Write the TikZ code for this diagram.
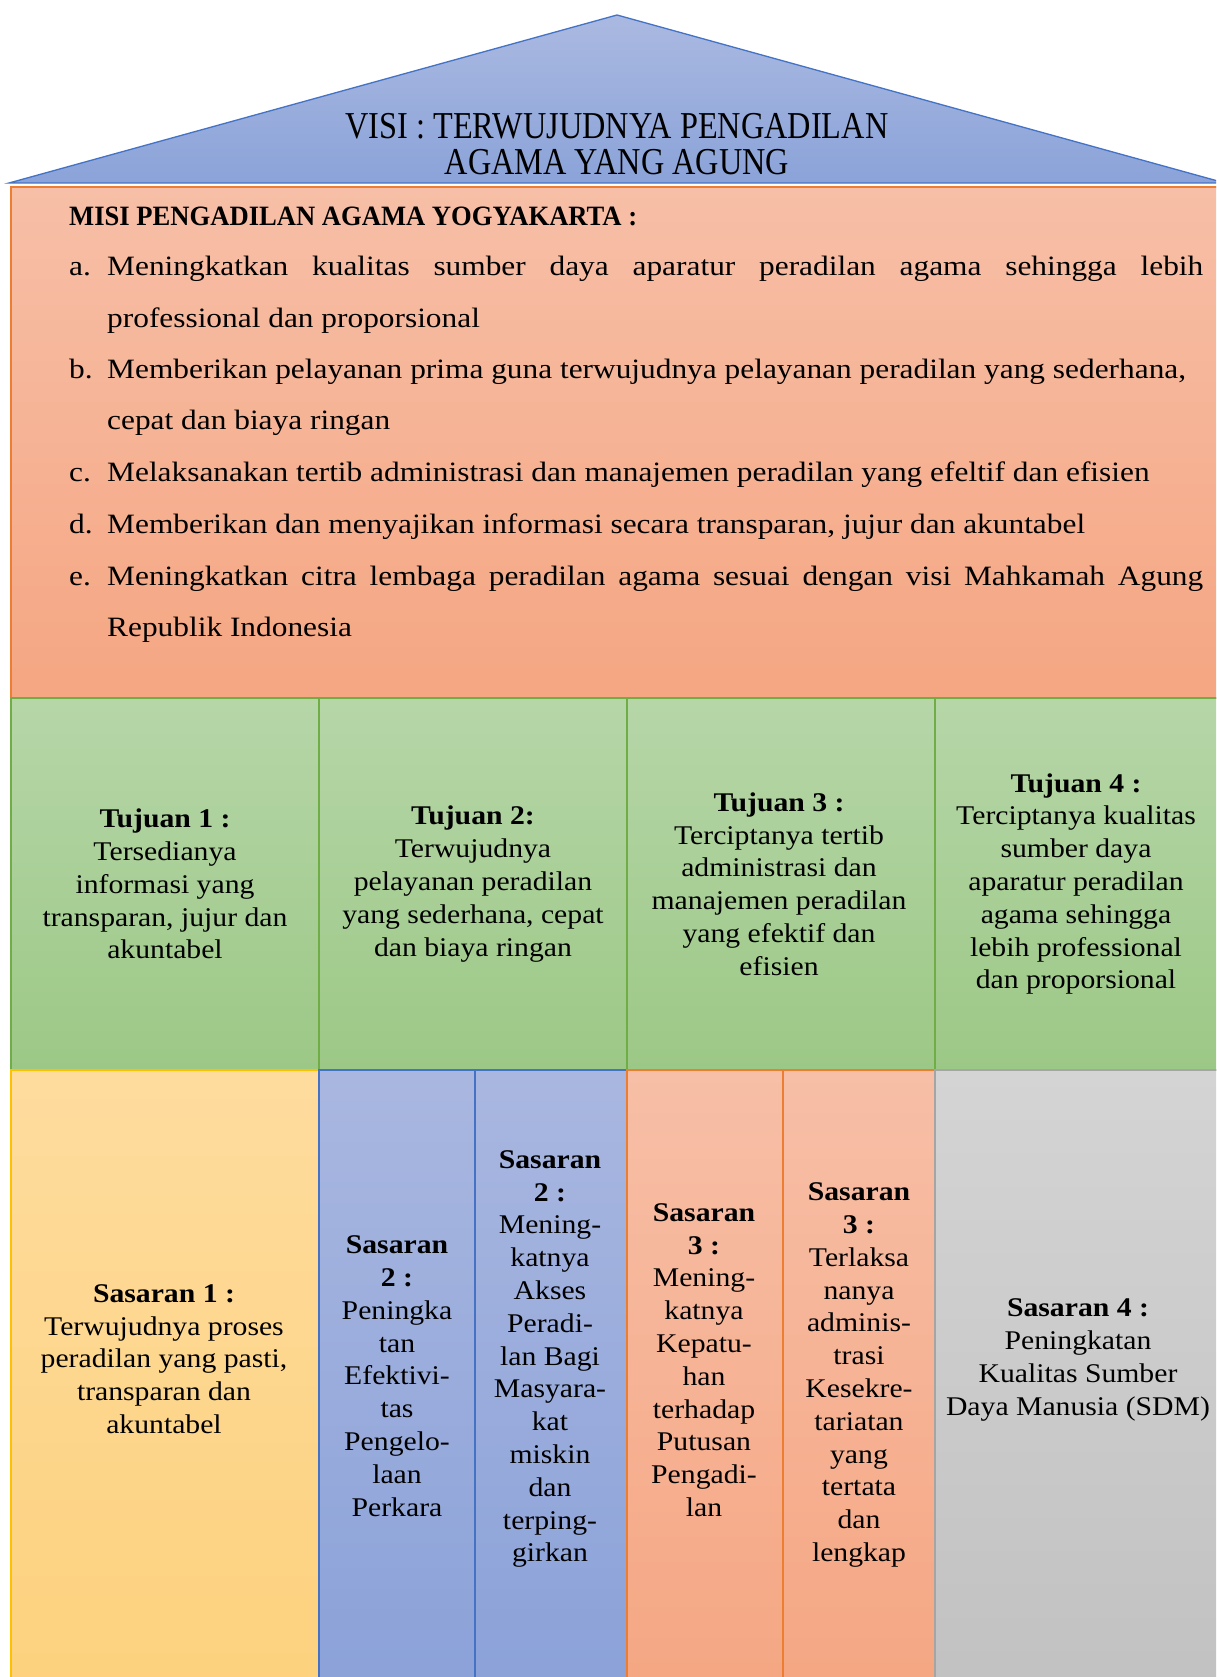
\documentclass[tikz,border=0pt]{standalone}
\usepackage{fontspec}
\setmainfont{Liberation Serif}[FakeStretch=1.12]
\newfontfamily\visifont{Liberation Serif}[FakeStretch=0.85]
\newfontfamily\titlefont{Liberation Serif}[FakeStretch=0.95]
\newfontfamily\cellfont{Liberation Serif}[FakeStretch=1.1]
\definecolor{roofT}{HTML}{AAB9E1}
\definecolor{roofB}{HTML}{8BA3D9}
\definecolor{roofL}{HTML}{4472C4}
\definecolor{misiT}{HTML}{F7BFA7}
\definecolor{misiB}{HTML}{F5A682}
\definecolor{misiL}{HTML}{ED7D31}
\definecolor{greT}{HTML}{B6D6A8}
\definecolor{greB}{HTML}{9CC886}
\definecolor{greL}{HTML}{70AD47}
\definecolor{yelT}{HTML}{FEDC9E}
\definecolor{yelB}{HTML}{FDD17D}
\definecolor{yelL}{HTML}{FFC000}
\definecolor{bluT}{HTML}{A9B7E0}
\definecolor{bluB}{HTML}{8AA1D8}
\definecolor{gryT}{HTML}{D4D4D4}
\definecolor{gryB}{HTML}{C1C1C1}
\definecolor{gryL}{HTML}{A5A5A5}
\begin{document}
\begin{tikzpicture}[x=1pt,y=-1pt,
  cell/.style={line width=1.2pt},
  greencell/.style={cell, draw=greL, top color=greT, bottom color=greB},
  yellowcell/.style={cell, draw=yelL, top color=yelT, bottom color=yelB},
  bluecell/.style={cell, draw=roofL, top color=bluT, bottom color=bluB},
  salmoncell/.style={cell, draw=misiL, top color=misiT, bottom color=misiB},
  graycell/.style={cell, draw=gryL, top color=gryT, bottom color=gryB},
  celltext/.style={font=\cellfont\fontsize{27}{32.8}\selectfont, align=center, inner sep=0pt},
  misiline/.style={font=\fontsize{28}{33}\selectfont, inner sep=0pt, anchor=base west}]
\clip (0,0) rectangle (1216,1677);
\fill[white] (0,0) rectangle (1216,1677);
% roof
\coordinate (apex) at (617,15);
\coordinate (rl) at (9,183);
\coordinate (rr) at (1225,183);
\draw[roofL, line width=1.3pt, top color=roofT, bottom color=roofB] (rl) -- (apex) -- (rr) -- cycle;
\node[font=\visifont\fontsize{38}{36}\selectfont, align=center, inner sep=0pt] (visi) at (617,144)
  {VISI : TERWUJUDNYA PENGADILAN\\AGAMA YANG AGUNG};
% misi box
\draw[salmoncell] (11,187) rectangle (1222,698);
\node[misiline, font=\titlefont\bfseries\fontsize{28}{33}\selectfont] (mtitle) at (69,226) {MISI PENGADILAN AGAMA YOGYAKARTA :};
\node[misiline] (la) at (69,276) {a.};
\node[misiline] (ma1) at (107,276) {\makebox[1096pt][s]{Meningkatkan kualitas sumber daya aparatur peradilan agama sehingga lebih}};
\node[misiline] (ma2) at (107,327) {professional dan proporsional};
\node[misiline] (lb) at (69,378) {b.};
\node[misiline] (mb1) at (107,378) {Memberikan pelayanan prima guna terwujudnya pelayanan peradilan yang sederhana,};
\node[misiline] (mb2) at (107,429) {cepat dan biaya ringan};
\node[misiline] (lc) at (69,481) {c.};
\node[misiline] (mc) at (107,481) {Melaksanakan tertib administrasi dan manajemen peradilan yang efeltif dan efisien};
\node[misiline] (ld) at (69,533) {d.};
\node[misiline] (md) at (107,533) {Memberikan dan menyajikan informasi secara transparan, jujur dan akuntabel};
\node[misiline] (le) at (69,585) {e.};
\node[misiline] (me1) at (107,585) {\makebox[1096pt][s]{Meningkatkan citra lembaga peradilan agama sesuai dengan visi Mahkamah Agung}};
\node[misiline] (me2) at (107,636) {Republik Indonesia};
% tujuan row
\draw[greencell] (11,698) rectangle (319,1070);
\draw[greencell] (319,698) rectangle (627,1070);
\draw[greencell] (627,698) rectangle (935,1070);
\draw[greencell] (935,698) rectangle (1222,1070);
\node[celltext] (t1) at (165,884) {\textbf{Tujuan 1 :}\\Tersedianya\\informasi yang\\transparan, jujur dan\\akuntabel};
\node[celltext] (t2) at (473,884) {\textbf{Tujuan 2:}\\Terwujudnya\\pelayanan peradilan\\yang sederhana, cepat\\dan biaya ringan};
\node[celltext] (t3) at (779,884) {\textbf{Tujuan 3 :}\\Terciptanya tertib\\administrasi dan\\manajemen peradilan\\yang efektif dan\\efisien};
\node[celltext] (t4) at (1076,884) {\textbf{Tujuan 4 :}\\Terciptanya kualitas\\sumber daya\\aparatur peradilan\\agama sehingga\\lebih professional\\dan proporsional};
% sasaran row
\draw[yellowcell] (11,1070) rectangle (319,1700);
\draw[bluecell] (319,1070) rectangle (475,1700);
\draw[bluecell] (475,1070) rectangle (627,1700);
\draw[salmoncell] (627,1070) rectangle (783,1700);
\draw[salmoncell] (783,1070) rectangle (935,1700);
\draw[graycell] (935,1070) rectangle (1222,1700);
\node[celltext] (s1) at (164,1359) {\textbf{Sasaran 1 :}\\Terwujudnya proses\\peradilan yang pasti,\\transparan dan\\akuntabel};
\node[celltext] (s2a) at (397,1376) {\textbf{Sasaran}\\\textbf{2 :}\\Peningka\\tan\\Efektivi-\\tas\\Pengelo-\\laan\\Perkara};
\node[celltext] (s2b) at (550,1359) {\textbf{Sasaran}\\\textbf{2 :}\\Mening-\\katnya\\Akses\\Peradi-\\lan Bagi\\Masyara-\\kat\\miskin\\dan\\terping-\\girkan};
\node[celltext] (s3a) at (704,1360) {\textbf{Sasaran}\\\textbf{3 :}\\Mening-\\katnya\\Kepatu-\\han\\terhadap\\Putusan\\Pengadi-\\lan};
\node[celltext] (s3b) at (859,1375) {\textbf{Sasaran}\\\textbf{3 :}\\Terlaksa\\nanya\\adminis-\\trasi\\Kesekre-\\tariatan\\yang\\tertata\\dan\\lengkap};
\node[celltext] (s4) at (1078,1360) {\textbf{Sasaran 4 :}\\Peningkatan\\Kualitas Sumber\\Daya Manusia (SDM)};
\end{tikzpicture}
\end{document}
